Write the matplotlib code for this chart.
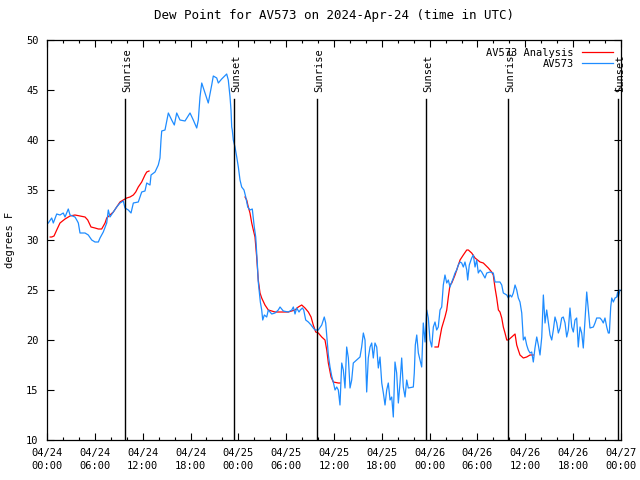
import matplotlib
matplotlib.use("Agg")
import matplotlib.pyplot as plt
from matplotlib.ticker import MultipleLocator

# hours since 2024-04-24 00:00 UTC
obs_hours = [0.16, 0.59, 0.79, 1.22, 1.63, 2.04, 2.26, 2.67, 2.89, 3.51, 3.73, 3.93, 4.14, 4.77, 5.18,
             5.61, 6.02, 6.44, 6.65, 7.06, 7.49, 7.69, 7.90, 8.32, 8.74, 9.16, 9.57, 9.78, 10.20, 10.54,
             10.83, 11.45, 11.88, 12.29, 12.51, 12.92, 13.05, 13.55, 13.96, 14.17, 14.30, 14.39, 14.80,
             15.22, 15.64, 15.97, 16.27, 16.68, 17.31, 17.94, 18.35, 18.78, 18.98, 19.19, 19.41, 19.82,
             20.23, 20.66, 20.86, 21.29, 21.49, 21.91, 22.54, 22.74, 22.96, 23.08, 23.17, 23.24, 23.37,
             23.58, 23.80, 24.00, 24.21, 24.42, 24.71, 24.93, 25.18, 25.46, 25.75, 26.00, 26.18, 26.38,
             26.50, 26.63, 26.76, 26.93, 27.06, 27.26, 27.56, 27.76, 28.19, 28.60, 29.01, 29.23, 29.64,
             30.27, 30.70, 30.90, 31.11, 31.32, 31.61, 31.77, 32.03, 32.20, 32.45, 32.78, 33.12, 33.40,
             33.62, 34.03, 34.46, 34.78, 34.96, 35.13, 35.29, 35.50, 35.71, 35.91, 36.13, 36.34, 36.54,
             36.75, 36.97, 37.17, 37.38, 37.59, 37.80, 38.01, 38.22, 38.42, 38.85, 39.26, 39.47, 39.68,
             39.89, 40.10, 40.30, 40.52, 40.73, 40.93, 41.14, 41.36, 41.56, 41.77, 41.99, 42.19, 42.40,
             42.61, 42.81, 43.03, 43.24, 43.44, 43.65, 43.86, 44.07, 44.28, 44.49, 44.69, 44.91, 45.12,
             45.32, 45.95, 46.07, 46.20, 46.38, 46.58, 46.79, 47.00, 47.20, 47.42, 47.63, 47.83, 48.04,
             48.26, 48.46, 48.67, 48.88, 49.08, 49.30, 49.51, 49.71, 49.92, 50.14, 50.34, 50.55, 50.77,
             50.97, 51.18, 51.39, 51.59, 51.81, 52.02, 52.22, 52.43, 52.65, 52.77, 52.97, 53.27, 53.48,
             53.69, 53.90, 54.10, 54.32, 54.53, 54.73, 54.94, 55.16, 55.57, 55.98, 56.20, 56.82, 57.04,
             57.24, 57.67, 57.87, 58.08, 58.29, 58.49, 58.71, 58.92, 59.12, 59.33, 59.55, 59.75, 59.96,
             60.17, 60.37, 60.59, 60.80, 61.00, 61.21, 61.43, 61.63, 61.84, 62.06, 62.26, 62.47, 62.68,
             62.88, 63.10, 63.31, 63.51, 63.72, 63.94, 64.14, 64.35, 64.56, 64.76, 64.98, 65.19, 65.39,
             65.60, 65.82, 66.02, 66.23, 66.44, 66.64, 66.86, 67.07, 67.27, 67.49, 67.70, 67.90, 68.11,
             68.53, 68.74, 68.95, 69.37, 69.58, 69.78, 69.99, 70.21, 70.41, 70.54, 70.71, 70.84, 71.04,
             71.25, 71.46, 71.58, 71.66, 71.87]
obs_dewpt = [31.7, 32.2, 31.7, 32.6, 32.5, 32.7, 32.3, 33.1, 32.5, 32.3, 32.0, 31.7, 30.7, 30.7, 30.5,
             30.0, 29.8, 29.8, 30.2, 30.8, 31.7, 33.0, 32.3, 32.8, 33.3, 33.7, 33.9, 33.2, 33.0, 32.7,
             33.7, 33.8, 34.8, 34.9, 35.7, 35.5, 36.5, 36.8, 37.5, 38.2, 40.0, 40.9, 41.0,
             42.7, 42.0, 41.5, 42.7, 42.0, 41.9, 42.7, 42.0, 41.2, 42.0, 44.3, 45.7, 44.7,
             43.7, 45.5, 46.4, 46.2, 45.7, 46.1, 46.6, 46.0, 44.3, 43.0, 41.3, 41.0, 40.0,
             39.3, 38.3, 37.3, 36.0, 35.3, 35.0, 34.3, 33.3, 33.0, 33.1, 31.3, 30.3, 27.7,
             25.8, 24.8, 23.8, 23.0, 22.0, 22.5, 22.3, 23.0, 22.6, 22.7, 23.0, 23.3, 22.9,
             22.8, 23.0, 23.3, 22.6, 23.2, 22.8, 23.0, 23.2, 23.0, 22.0, 21.8, 21.5, 21.2,
             21.0, 21.0, 21.5, 22.3, 21.7, 20.0, 18.5, 17.3, 16.4, 15.8, 15.0, 15.3, 15.0,
             13.5, 17.7, 17.0, 15.2, 19.3, 18.2, 15.2, 16.0, 17.7, 18.0, 18.3, 19.3, 20.7,
             20.0, 14.8, 18.2, 19.3, 19.7, 18.2, 19.7, 19.3, 17.2, 18.3, 15.7, 14.7, 13.5,
             15.0, 15.7, 14.0, 14.3, 12.3, 17.8, 16.7, 13.7, 15.7, 18.2, 15.3, 14.3, 16.0,
             15.2, 15.3, 16.7, 19.5, 20.5, 18.7, 18.0, 17.3, 21.7, 19.8, 23.0, 22.2, 20.0,
             19.3, 21.3, 21.8, 21.0, 21.3, 23.0, 23.3, 25.5, 26.5, 25.7, 26.0, 25.3, 25.8,
             26.2, 26.7, 27.0, 27.5, 27.8, 27.7, 27.3, 27.8, 27.0, 26.0, 27.5, 28.2, 28.5,
             27.3, 28.0, 26.7, 27.0, 26.8, 26.5, 26.2, 26.7, 26.8, 26.7, 25.8, 25.8, 25.5,
             24.7, 24.5, 24.2, 24.5, 24.3, 24.7, 25.5, 25.0, 24.2, 23.8, 22.7, 20.0, 20.3,
             19.5, 19.0, 18.7, 18.8, 17.8, 19.2, 20.3, 19.5, 18.5, 20.3, 24.5, 21.7, 23.0,
             21.8, 20.5, 20.0, 21.0, 22.3, 21.7, 20.7, 21.2, 22.2, 22.3, 21.7, 20.3, 21.0,
             23.2, 21.3, 20.8, 22.0, 22.2, 19.3, 21.3, 20.7, 19.2, 22.0, 24.8, 23.0, 21.2,
             21.3, 21.7, 22.2, 22.2, 22.0, 21.7, 22.2, 21.3, 20.7, 20.7, 23.3, 24.2, 23.8,
             24.2, 24.3, 24.8, 24.3, 25.0]

# analysis comes in three separate pieces
ana1_hours = [0.40, 0.59, 0.88, 1.22, 1.63, 2.26, 2.89, 3.51, 4.14, 4.77, 5.11, 5.52, 6.02, 6.44, 6.86,
              7.28, 7.49, 7.90, 8.32, 8.74, 9.16, 9.57, 10.00, 10.41, 10.83, 11.13, 11.45, 11.88,
              12.29, 12.51, 12.80]
ana1_dewpt = [30.3, 30.3, 30.4, 31.0, 31.7, 32.1, 32.4, 32.5, 32.4, 32.3, 32.0, 31.3, 31.2, 31.1, 31.1,
              31.7, 32.2, 32.5, 32.8, 33.3, 33.8, 34.0, 34.2, 34.3, 34.5, 34.8, 35.3, 35.8,
              36.5, 36.8, 36.9]
ana2_hours = [24.84, 25.05, 25.25, 25.46, 25.68, 25.88, 26.09, 26.30, 26.50, 26.72, 26.93, 27.34, 27.76,
              28.60, 29.44, 30.27, 31.11, 31.52, 31.95, 32.36, 32.78, 33.12, 33.40, 33.71, 34.03,
              34.46, 34.87, 35.09, 35.29, 35.63, 35.91, 36.54, 36.75]
ana2_dewpt = [34.3, 34.0, 33.3, 32.7, 31.7, 31.0, 30.3, 28.3, 26.0, 24.7, 24.2, 23.5, 23.0,
              22.8, 22.8, 22.8, 23.0, 23.3, 23.5, 23.2, 22.8, 22.3, 21.5, 20.8, 20.7,
              20.3, 20.0, 19.0, 17.7, 16.3, 15.8, 15.7, 15.7]
ana3_hours = [48.67, 49.08, 49.30, 49.51, 49.92, 50.14, 50.34, 50.55, 50.77, 51.18, 51.39, 51.81, 52.22,
              52.65, 52.85, 53.27, 53.69, 54.32, 54.73, 55.36, 55.78, 55.98, 56.20, 56.41, 56.62,
              56.82, 57.04, 57.24, 57.45, 57.67, 57.87, 58.29, 58.71, 58.92, 59.12, 59.33, 59.75,
              60.17, 60.59, 61.00]
ana3_dewpt = [19.3, 19.3, 20.3, 21.2, 22.3, 23.0, 24.3, 25.5, 25.7, 26.5, 27.0, 28.0, 28.5,
              29.0, 29.0, 28.7, 28.2, 27.8, 27.7, 27.2, 26.8, 26.5, 25.2, 24.2, 23.0,
              22.8, 22.2, 21.3, 20.7, 20.0, 20.0, 20.3, 20.6, 19.5, 19.0, 18.5, 18.2,
              18.3, 18.5, 18.5]

sun_hours = [9.81, 23.50, 33.90, 47.58, 57.87, 71.66]
sun_labels = ["Sunrise", "Sunset", "Sunrise", "Sunset", "Sunrise", "Sunset"]

tick_hours = [0, 6, 12, 18, 24, 30, 36, 42, 48, 54, 60, 66, 72]
tick_labels = ["04/24\n00:00", "04/24\n06:00", "04/24\n12:00", "04/24\n18:00",
               "04/25\n00:00", "04/25\n06:00", "04/25\n12:00", "04/25\n18:00",
               "04/26\n00:00", "04/26\n06:00", "04/26\n12:00", "04/26\n18:00",
               "04/27\n00:00"]

plt.rcParams["font.family"] = ["DejaVu Sans Mono"]
plt.rcParams["font.size"] = 7.5

fig = plt.figure(figsize=(6.4, 4.8), dpi=100)
ax = fig.add_axes([47 / 640, 40 / 480, 574 / 640, 400 / 480])   # gnuplot-like frame

red = "#ff0000"
blue = "#1e8cff"
ax.plot(ana1_hours, ana1_dewpt, color=red, lw=0.9, label="AV573 Analysis")
ax.plot(ana2_hours, ana2_dewpt, color=red, lw=0.9)
ax.plot(ana3_hours, ana3_dewpt, color=red, lw=0.9)
ax.plot(obs_hours, obs_dewpt, color=blue, lw=0.9, label="AV573")

for h, lab in zip(sun_hours, sun_labels):
    ax.plot([h, h], [10, 44.1], color="black", lw=1.0)
    ax.text(h + 0.2, 44.8, lab, rotation=90, ha="center", va="bottom")

ax.set_xlim(0, 72)
ax.set_ylim(10, 50)
ax.set_xticks(tick_hours)
ax.set_xticklabels(tick_labels, linespacing=1.35)
ax.xaxis.set_minor_locator(MultipleLocator(2))
ax.yaxis.set_major_locator(MultipleLocator(5))
ax.tick_params(which="both", direction="in", top=True, right=True, width=0.8)
ax.tick_params(which="major", length=5, pad=6)
ax.tick_params(which="minor", length=2.5)
for s in ax.spines.values():
    s.set_linewidth(0.9)

ax.set_title("Dew Point for AV573 on 2024-Apr-24 (time in UTC)", pad=15)
ax.set_ylabel("degrees F", labelpad=8)

ax.legend(loc="upper right", frameon=False, markerfirst=False, handlelength=3.0,
          borderaxespad=0.35, labelspacing=0.1, handletextpad=0.8)

fig.savefig("out.png", dpi=100)
